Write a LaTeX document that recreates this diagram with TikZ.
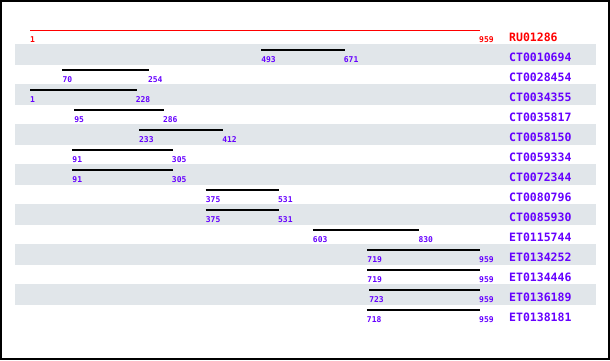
\documentclass[tikz,border=0pt]{standalone}
\usepackage{fontspec}
\setmonofont{DejaVu Sans Mono}
\definecolor{lbl}{HTML}{6600FF}
\definecolor{band}{HTML}{E1E6EA}
\definecolor{refred}{HTML}{FF0000}
\begin{document}
\begin{tikzpicture}[x=1pt,y=-1pt,
  num/.style={font=\ttfamily\bfseries\fontsize{8}{8}\selectfont, text=lbl, inner sep=0pt, anchor=base west},
  seqname/.style={font=\ttfamily\bfseries\fontsize{11.5}{11.5}\selectfont, text=lbl, inner sep=0pt, anchor=base west},
  hit/.style={line width=1.2pt, black}]
\useasboundingbox (0,0) rectangle (610,360);
\fill[white] (0,0) rectangle (610,360);
\foreach \k in {1,3,...,13} { \fill[band] (15,{24+20*\k}) rectangle (596,{44.5+20*\k}); }
\draw[black, line width=2pt] (1,1) rectangle (608.5,358.5);
% reference row
\coordinate (s0) at (30,30);
\coordinate (e0) at (480,30);
\draw[refred, line width=1pt] (s0) -- (e0);
\node[num, text=refred] (a0) at (30,42) {1};
\node[num, text=refred] (b0) at (479,42) {959};
\node[seqname, text=refred] (n0) at (509,41) {RU01286};
\foreach \i/\a/\b/\n in {1/493/671/CT0010694, 2/70/254/CT0028454, 3/1/228/CT0034355, 4/95/286/CT0035817,
  5/233/412/CT0058150, 6/91/305/CT0059334, 7/91/305/CT0072344, 8/375/531/CT0080796, 9/375/531/CT0085930,
  10/603/830/ET0115744, 11/719/959/ET0134252, 12/719/959/ET0134446, 13/723/959/ET0136189, 14/718/959/ET0138181} {
  \pgfmathsetmacro\xa{30+(\a-1)*0.469729}
  \pgfmathsetmacro\xb{30+(\b-1)*0.469729}
  \pgfmathsetmacro\yy{30+20*\i}
  \coordinate (s\i) at (\xa,\yy);
  \coordinate (e\i) at (\xb,\yy);
  \draw[hit] (s\i) -- (e\i);
  \node[num] (a\i) at (\xa,\yy+12) {\a};
  \node[num] (b\i) at (\xb-1,\yy+12) {\b};
  \node[seqname] (n\i) at (509,\yy+11) {\n};
}
\end{tikzpicture}
\end{document}
